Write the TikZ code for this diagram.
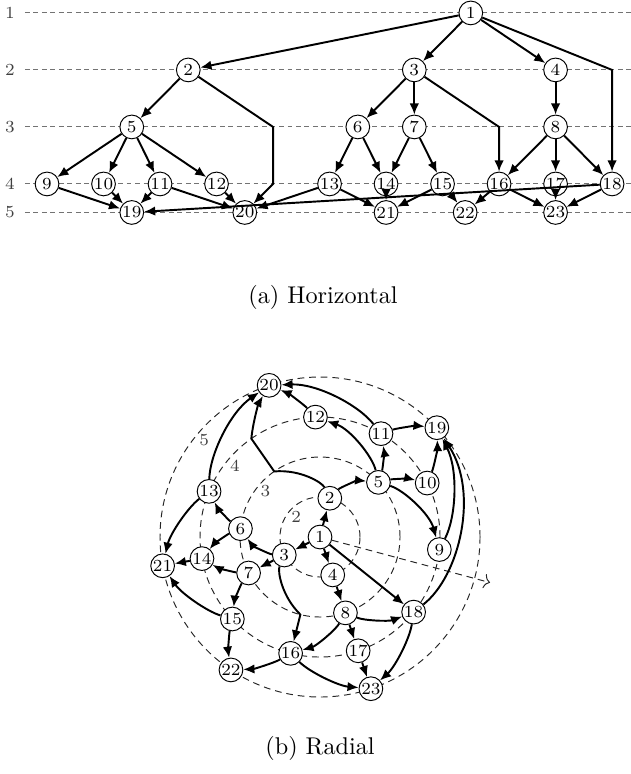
\documentclass[tikz,border=0pt]{standalone}
\usetikzlibrary{arrows.meta}

\tikzset{
  vertex/.style={circle, draw, thin, fill=white, minimum size=9.8pt, inner sep=0pt,
                 font=\fontsize{7}{8}\selectfont},
  edge/.style={line width=0.8pt, -{Latex[length=4.6pt,width=3.9pt]}},
  layer/.style={black!55, thin, dash pattern=on 2pt off 1.5pt},
  ring/.style={black!85, thin, dash pattern=on 2.8pt off 2pt},
  layerlabel/.style={text=black!75, inner sep=0pt, font=\fontsize{7}{8}\selectfont}
}

% vertices: name/slot/layer
\newcommand\vertices{1/7.5/1, 2/2.5/2, 3/6.5/2, 4/9/2, 5/1.5/3, 6/5.5/3, 7/6.5/3, 8/9/3,
  9/0/4, 10/1/4, 11/2/4, 12/3/4, 13/5/4, 14/6/4, 15/7/4, 16/8/4, 17/9/4, 18/10/4,
  19/1.5/5, 20/3.5/5, 21/6/5, 22/7.4/5, 23/9/5}
% bend points of the long edges
\newcommand\dummies{b1/4/3, b2/4/4, b3/8/3, b4/10/2, b5/10/3}
% edges between neighbouring layers
\newcommand\edgelist{1/2, 1/3, 1/4, 2/5, 3/6, 3/7, 4/8, 5/9, 5/10, 5/11, 5/12,
  6/13, 6/14, 7/14, 7/15, 8/16, 8/17, 8/18, 9/19, 10/19, 11/19, 11/20, 12/20,
  13/20, 13/21, 14/21, 15/21, 15/22, 16/22, 16/23, 17/23, 18/19, 18/23}

% control points (ca) and (cb) of the spiral piece from #1 to #2
\newcommand\spiralctrl[2]{%
  \pgfmathsetmacro\tB{\csname ang#2\endcsname}%
  \pgfmathsetmacro\rA{\csname rad#1\endcsname}%
  \pgfmathsetmacro\rB{\csname rad#2\endcsname}%
  \pgfmathsetmacro\tA{\rA==0 ? \tB : \csname ang#1\endcsname}%
  \pgfmathsetmacro\dT{mod(\tB-\tA+540,360)-180}%
  \pgfmathsetmacro\dR{(\rB-\rA)/3}%
  \pgfmathsetmacro\lA{\rA*\dT*pi/540}%
  \pgfmathsetmacro\lB{\rB*\dT*pi/540}%
  \pgfmathsetmacro\xA{(\rA+\dR)*cos(\tA)-\lA*sin(\tA)}%
  \pgfmathsetmacro\yA{(\rA+\dR)*sin(\tA)+\lA*cos(\tA)}%
  \pgfmathsetmacro\xB{(\rB-\dR)*cos(\tB)+\lB*sin(\tB)}%
  \pgfmathsetmacro\yB{(\rB-\dR)*sin(\tB)-\lB*cos(\tB)}%
  \coordinate (ca) at (\xA,\yA);%
  \coordinate (cb) at (\xB,\yB);%
}

\begin{document}
\begin{tikzpicture}
\useasboundingbox (0,0) rectangle (9.165,11.242);

% (a) horizontal
\begin{scope}[shift={(0.683,11.054)}, x=0.8207cm, y=0.828cm]
  \foreach \lv/\y in {1/0, 2/-1, 3/-2, 4/-3, 5/-3.5} {
    \draw[layer] (-0.39,\y) -- (10.34,\y);
    \node[layerlabel] (row\lv) at (-0.655,\y) {\lv};
  }
  \foreach \n/\x/\lv in \vertices {
    \pgfmathsetmacro\hy{\lv==5 ? -3.5 : 1-\lv}
    \node[vertex] (h\n) at (\x,\hy) {\n};
  }
  \foreach \n/\x/\lv in \dummies {
    \pgfmathsetmacro\hy{1-\lv}
    \coordinate (h\n) at (\x,\hy);
  }
  \foreach \a/\b in \edgelist
    \draw[edge] (h\a) -- (h\b);
  \draw[edge] (h1) -- (hb4) -- (hb5) -- (h18);
  \draw[edge] (h2) -- (hb1) -- (hb2) -- (h20);
  \draw[edge] (h3) -- (hb3) -- (h16);
\end{scope}
\node (capa) at (4.692,6.928) {(a) Horizontal};

% (b) radial
\begin{scope}[shift={(4.648,3.442)}, x=0.581cm, y=0.581cm]
  \foreach \lv in {2,...,5} {
    \pgfmathsetmacro\radl{\lv-1}
    \pgfmathsetmacro\labr{\lv-1.22}
    \draw[ring] (0,0) circle[radius=\radl];
    \node[layerlabel] (ring\lv) at (140:\labr) {\lv};
  }
  \foreach \n/\x/\lv in \vertices {
    \pgfmathsetmacro\angl{-6+\x*360/11}
    \pgfmathsetmacro\radl{\lv-1}
    \node[vertex] (r\n) at (\angl:\radl) {\n};
    \expandafter\xdef\csname angr\n\endcsname{\angl}
    \expandafter\xdef\csname radr\n\endcsname{\radl}
  }
  \foreach \n/\x/\lv in \dummies {
    \pgfmathsetmacro\angl{-6+\x*360/11}
    \pgfmathsetmacro\radl{\lv-1}
    \coordinate (r\n) at (\angl:\radl);
    \expandafter\xdef\csname angr\n\endcsname{\angl}
    \expandafter\xdef\csname radr\n\endcsname{\radl}
  }
  \coordinate (start) at (-15:4.4);
  \draw[ring, -{To[length=2.5pt,width=6pt]}] (r1) -- (start);

  \foreach \a/\b in \edgelist {
    \spiralctrl{r\a}{r\b}
    \draw[edge] (r\a) .. controls (ca) and (cb) .. (r\b);
  }
  \spiralctrl{r1}{rb4}
  \draw[edge] (r1) .. controls (ca) and (cb) .. (rb4) -- (rb5) -- (r18);
  \spiralctrl{r2}{rb1}
  \coordinate (c1) at (ca);
  \coordinate (c2) at (cb);
  \spiralctrl{rb2}{r20}
  \draw[edge] (r2) .. controls (c1) and (c2) .. (rb1) -- (rb2) .. controls (ca) and (cb) .. (r20);
  \spiralctrl{r3}{rb3}
  \draw[edge] (r3) .. controls (ca) and (cb) .. (rb3) -- (r16);
\end{scope}
\node (capb) at (4.648,0.378) {(b) Radial};
\end{tikzpicture}
\end{document}
